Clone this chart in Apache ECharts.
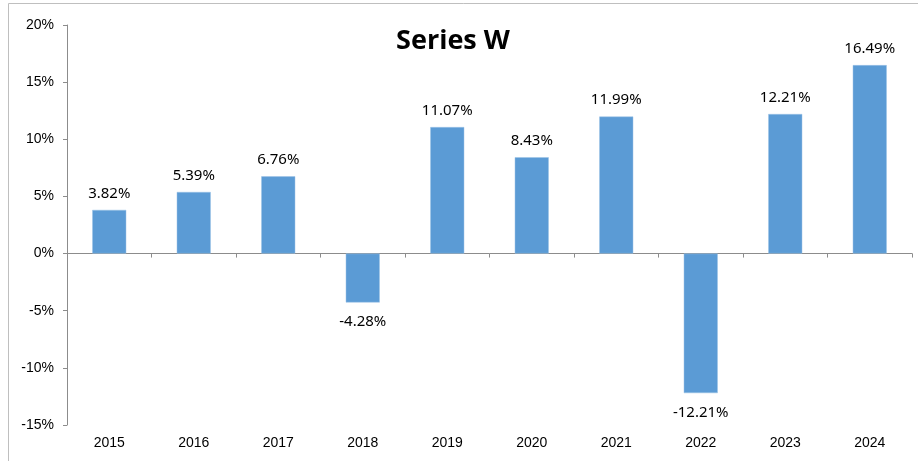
<!DOCTYPE html>
<html>
<head>
<meta charset="utf-8">
<script src="https://cdn.jsdelivr.net/npm/echarts@6/dist/echarts.min.js"></script>
<style>
  html, body { margin: 0; padding: 0; background: #fff; }
  #chart { width: 918px; height: 461px; }
</style>
</head>
<body>
<div id="chart"></div>
<script>
const years = ['2015', '2016', '2017', '2018', '2019', '2020', '2021', '2022', '2023', '2024'];
const returns = [3.82, 5.39, 6.76, -4.28, 11.07, 8.43, 11.99, -12.21, 12.21, 16.49];

const chart = echarts.init(document.getElementById('chart'));

chart.setOption({
  animation: false,
  title: {
    text: 'Series W',
    left: 448,
    top: 23,
    textAlign: 'center',
    textStyle: { fontFamily: 'Open Sans', fontWeight: 'bold', fontSize: 27, color: '#000' }
  },
  // light frame around the chart area
  graphic: [{
    type: 'rect',
    shape: { x: 8.5, y: 3.5, width: 920, height: 470 },
    style: { fill: 'none', stroke: '#bfbfbf', lineWidth: 1 },
    silent: true
  }],
  grid: { left: 67, right: 6, top: 25, bottom: 36 },
  xAxis: {
    type: 'category',
    data: years,
    position: 'bottom',
    axisLine: { onZero: true, lineStyle: { color: '#8c8c8c' } },
    axisTick: { show: true, length: 4, lineStyle: { color: '#8c8c8c' } },
    axisLabel: { fontFamily: 'Liberation Sans', fontSize: 14, color: '#000', margin: 11 }
  },
  yAxis: {
    type: 'value',
    min: -15,
    max: 20,
    interval: 5,
    splitLine: { show: false },
    axisLine: { show: true, lineStyle: { color: '#8c8c8c' } },
    axisTick: { show: true, length: 4, lineStyle: { color: '#8c8c8c' } },
    axisLabel: {
      fontFamily: 'Liberation Sans', fontSize: 14, color: '#000', margin: 13,
      formatter: v => v + '%'
    }
  },
  series: [{
    type: 'bar',
    data: returns.map(v => ({
      value: v,
      label: {
        position: v < 0 ? 'bottom' : 'top',
        distance: v < 0 ? 12 : 9
      }
    })),
    barWidth: 34,
    itemStyle: { color: '#5b9bd5', borderColor: '#9cc3e6', borderWidth: 0.5 },
    label: {
      show: true,
      fontFamily: 'Noto Sans', fontSize: 15, color: '#000',
      formatter: p => p.value.toFixed(2) + '%'
    }
  }]
});
</script>
</body>
</html>
